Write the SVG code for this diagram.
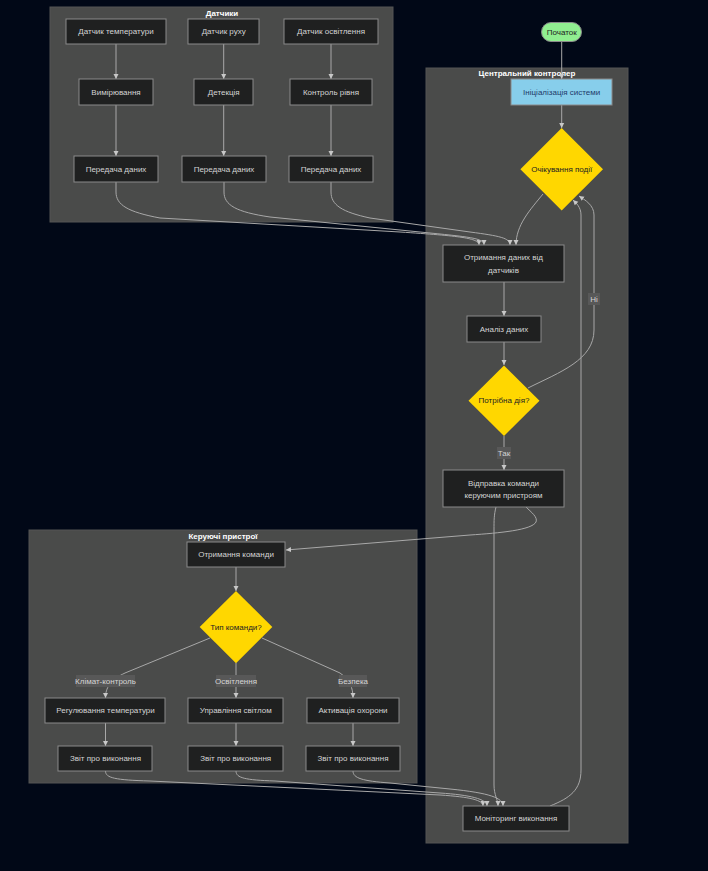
<svg xmlns="http://www.w3.org/2000/svg" width="708" height="871" viewBox="0 0 708 871">
<defs>
<marker id="arr" markerWidth="6" markerHeight="6" refX="5" refY="3" orient="auto" markerUnits="userSpaceOnUse">
<path d="M0,0.5 L5,3 L0,5.5 Z" fill="#c8c8c8"/>
</marker>
<style>
.cl{fill:#4a4b4a;stroke:#555;stroke-width:1}
.ct{font-family:"Liberation Sans",Arial,sans-serif;font-size:8px;font-weight:bold;fill:#ffffff;text-anchor:middle}
.n{fill:#1f2020;stroke:#8a8a8a;stroke-width:1}
.t{font-family:"Liberation Sans",Arial,sans-serif;font-size:8px;fill:#d4d4d4;text-anchor:middle;dominant-baseline:central}
.dt{font-family:"Liberation Sans",Arial,sans-serif;font-size:8px;fill:#222;text-anchor:middle;dominant-baseline:central}
.d{fill:#ffd700;stroke:none}
.e{fill:none;stroke:#a8a8a8;stroke-width:1;marker-end:url(#arr)}
.lb{fill:#585858}
.lt{font-family:"Liberation Sans",Arial,sans-serif;font-size:8px;fill:#d4d4d4;text-anchor:middle;dominant-baseline:central}
</style>
</defs>
<rect width="708" height="871" fill="#010817"/>

<g id="clusters">
<g id="cluster-sensors"><rect class="cl" x="50" y="7" width="343" height="215"/><text class="ct" x="222" y="16">Датчики</text></g>
<g id="cluster-central"><rect class="cl" x="426" y="68" width="202" height="775"/><text class="ct" x="527" y="76">Центральний контролер</text></g>
<g id="cluster-devices"><rect class="cl" x="29" y="530" width="388" height="253"/><text class="ct" x="223" y="539">Керуючі пристрої</text></g>
</g>

<g id="edges">
<path class="e" d="M116,44 L116,79"/>
<path class="e" d="M223.7,44 L223.7,79"/>
<path class="e" d="M331,44 L331,79"/>
<path class="e" d="M116,105 L116,156"/>
<path class="e" d="M223.7,105 L223.7,156"/>
<path class="e" d="M331,105 L331,156"/>
<path class="e" d="M116,182 L116,192 C116,205 128,212 160,218 L400,232 C460,236 479,238 479,245"/>
<path class="e" d="M224,182 L224,192 C224,205 236,212 270,217 L420,232 C470,237 484,238 484,245"/>
<path class="e" d="M331,182 L331,192 C331,205 342,212 370,218 L470,232 C500,236 510,238 510,245"/>
<path class="e" d="M561.7,41 L561.7,79"/>
<path class="e" d="M561.7,105 L561.7,128"/>
<path class="e" d="M543,194 C530,210 516,225 516,245"/>
<path class="e" d="M504,282 L504,316"/>
<path class="e" d="M504,342 L504,365"/>
<path class="e" d="M504,436 L504,470"/>
<path class="e" d="M528,388 C560,372 594,360 594,330 L594,215 C594,205 585,200 579,196"/>
<path class="e" d="M550,806 C570,798 581,790 581,770 L581,215 C581,207 576,203 573,200"/>
<path class="e" d="M496,507 C494,515 494,520 494,530 L494,785 C494,795 498,800 498,806"/>
<path class="e" d="M526,507 C531,512 538,517 536,522 C532,530 500,533 470,535 L286,550"/>
<path class="e" d="M236,567 L236,591"/>
<path class="e" d="M210,638 L125,673 C110,680 105.5,688 105.5,698"/>
<path class="e" d="M236,663 L236,698"/>
<path class="e" d="M262,638 L340,673 C350,680 353,688 353,698"/>
<path class="e" d="M105.5,723 L105.5,746"/>
<path class="e" d="M236,723 L236,746"/>
<path class="e" d="M353,723 L353,746"/>
<path class="e" d="M105.5,771 C105.5,778 115,780 150,781 L440,795 C470,797 483,800 483,806"/>
<path class="e" d="M236,771 C236,778 245,780 275,781 L440,793 C470,795 487,799 487,806"/>
<path class="e" d="M353,771 C353,778 362,781 390,783 L450,789 C490,793 503,798 503,806"/>
<g id="edge-labels">
<rect class="lb" x="497" y="447" width="14" height="12"/><text class="lt" x="504" y="453">Так</text>
<rect class="lb" x="588" y="293" width="12" height="12"/><text class="lt" x="594" y="299">Ні</text>
<rect class="lb" x="76" y="675" width="59" height="12"/><text class="lt" x="105.5" y="681">Клімат-контроль</text>
<rect class="lb" x="216" y="675" width="40" height="12"/><text class="lt" x="236" y="681">Освітлення</text>
<rect class="lb" x="339" y="675" width="28" height="12"/><text class="lt" x="353" y="681">Безпека</text>
</g>
</g>

<g id="nodes">
<g id="n-temp"><rect class="n" x="66" y="19" width="100" height="25"/><text class="t" x="116" y="31.5">Датчик температури</text></g>
<g id="n-motion"><rect class="n" x="188" y="19" width="71" height="25"/><text class="t" x="223.7" y="31.5">Датчик руху</text></g>
<g id="n-light"><rect class="n" x="284" y="19" width="94" height="25"/><text class="t" x="331" y="31.5">Датчик освітлення</text></g>
<g id="n-measure"><rect class="n" x="79" y="79" width="74" height="26"/><text class="t" x="116" y="92">Вимірювання</text></g>
<g id="n-detect"><rect class="n" x="194" y="79" width="59" height="26"/><text class="t" x="223.7" y="92">Детекція</text></g>
<g id="n-level"><rect class="n" x="290" y="79" width="82" height="26"/><text class="t" x="331" y="92">Контроль рівня</text></g>
<g id="n-send1"><rect class="n" x="74" y="156" width="84" height="26"/><text class="t" x="116" y="169">Передача даних</text></g>
<g id="n-send2"><rect class="n" x="182" y="156" width="84" height="26"/><text class="t" x="224" y="169">Передача даних</text></g>
<g id="n-send3"><rect class="n" x="289" y="156" width="84" height="26"/><text class="t" x="331" y="169">Передача даних</text></g>

<g id="n-start"><rect x="541.5" y="22.5" width="40" height="19" rx="9.5" fill="#90ee90" stroke="#8a8a8a"/><text class="dt" x="561.7" y="32">Початок</text></g>
<g id="n-init"><rect x="511" y="79" width="101" height="26" fill="#87ceeb" stroke="#8a8a8a"/><text class="t" x="561.7" y="92" style="fill:#1e3a6a">Ініціалізація системи</text></g>
<g id="n-wait"><polygon class="d" points="561.7,128 603,169.3 561.7,210.6 520.4,169.3"/><text class="dt" x="561.7" y="169.3">Очікування події</text></g>
<g id="n-receive"><rect class="n" x="443" y="245" width="121" height="37"/><text class="t" x="503.5" y="257">Отримання даних від</text><text class="t" x="503.5" y="270">датчиків</text></g>
<g id="n-analyze"><rect class="n" x="467" y="316" width="74" height="26"/><text class="t" x="504" y="329">Аналіз даних</text></g>
<g id="n-need"><polygon class="d" points="504,365.5 539.5,400.7 504,436 468.5,400.7"/><text class="dt" x="504" y="400.7">Потрібна дія?</text></g>
<g id="n-dispatch"><rect class="n" x="443" y="470" width="121" height="37"/><text class="t" x="503.5" y="483">Відправка команди</text><text class="t" x="503.5" y="495">керуючим пристроям</text></g>
<g id="n-monitor"><rect class="n" x="463" y="806" width="106" height="25"/><text class="t" x="516" y="818.5">Моніторинг виконання</text></g>

<g id="n-getcmd"><rect class="n" x="187" y="542" width="98" height="25"/><text class="t" x="236" y="554.5">Отримання команди</text></g>
<g id="n-type"><polygon class="d" points="236,591 272.3,627 236,663.3 199.7,627"/><text class="dt" x="236" y="627">Тип команди?</text></g>
<g id="n-regtemp"><rect class="n" x="45" y="698" width="120" height="25"/><text class="t" x="105.5" y="710.5">Регулювання температури</text></g>
<g id="n-lightctl"><rect class="n" x="188" y="698" width="95" height="25"/><text class="t" x="235.7" y="710.5">Управління світлом</text></g>
<g id="n-alarm"><rect class="n" x="307" y="698" width="92" height="25"/><text class="t" x="353" y="710.5">Активація охорони</text></g>
<g id="n-rep1"><rect class="n" x="58" y="746" width="94" height="25"/><text class="t" x="105.5" y="758.5">Звіт про виконання</text></g>
<g id="n-rep2"><rect class="n" x="188" y="746" width="95" height="25"/><text class="t" x="235.7" y="758.5">Звіт про виконання</text></g>
<g id="n-rep3"><rect class="n" x="306" y="746" width="94" height="25"/><text class="t" x="353" y="758.5">Звіт про виконання</text></g>
</g>
</svg>
